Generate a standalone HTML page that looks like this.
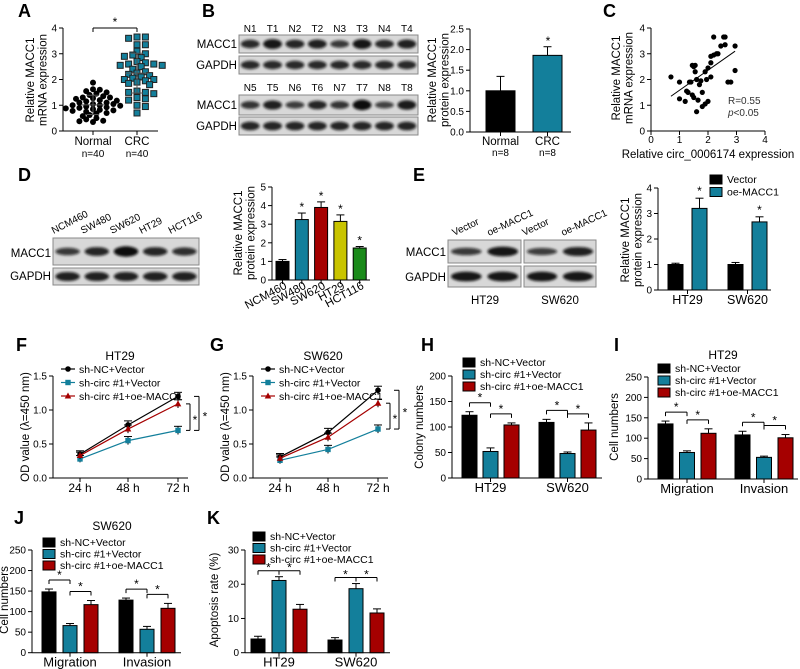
<!DOCTYPE html>
<html><head><meta charset="utf-8">
<style>
html,body{margin:0;padding:0;background:#fff;}
svg{display:block;font-family:"Liberation Sans",Arial,sans-serif;}
</style></head>
<body>
<svg id="fig" width="800" height="669" viewBox="0 0 800 669" xmlns="http://www.w3.org/2000/svg">
<defs><filter id="blur" x="-20%" y="-50%" width="140%" height="200%"><feGaussianBlur stdDeviation="1.3"/></filter></defs>
</svg>
<script>
// ---------- data ----------
const aNormal=[1.88,1.62,1.55,1.6,1.45,1.5,1.4,1.35,1.3,1.3,1.25,1.2,1.18,1.15,1.1,1.1,1.05,1.05,1.0,1.0,0.98,0.95,0.92,0.9,0.88,0.85,0.82,0.8,0.78,0.75,0.7,0.68,0.62,0.58,0.5,0.45,0.4,0.35,0.38,1.27];
const aCRC=[3.65,3.65,3.6,3.35,3.35,3.0,2.95,2.9,2.85,2.65,2.6,2.6,2.55,2.55,2.5,2.4,2.3,2.25,2.2,2.15,2.1,2.05,2.0,2.0,1.95,1.9,1.85,1.8,1.55,1.5,1.5,1.45,1.3,1.25,1.2,1.0,0.95,0.7,2.7,3.1];
const bCats=["Normal","CRC"];
const bVals=[1.0,1.86];
const bErr=[0.35,0.21];
const bBlotLanes=["N1","T1","N2","T2","N3","T3","N4","T4"];
const bBlotLanes2=["N5","T5","N6","T6","N7","T7","N8","T8"];
const bMacc1=[0.7,0.9,0.75,0.8,0.55,0.9,0.7,0.8];
const bMacc1b=[0.6,0.8,0.5,0.75,0.6,1.0,0.45,0.85];
const cX=[0.7,1.0,1.0,1.2,1.25,1.3,1.35,1.4,1.45,1.45,1.5,1.55,1.55,1.5,1.6,1.65,1.6,1.7,1.75,1.8,1.8,1.9,1.9,1.95,2.0,2.0,2.1,2.1,2.2,2.3,2.35,2.45,2.55,2.6,2.6,2.2,2.7,2.8,2.95,2.95,2.1];
const cY=[2.1,1.9,1.25,1.15,1.55,1.5,1.9,1.9,1.4,2.55,2.5,2.55,2.3,1.3,0.75,1.2,2.0,1.8,1.95,1.5,0.95,1.05,2.3,2.0,1.15,2.45,2.9,2.1,2.95,3.0,3.0,3.3,3.65,3.65,3.35,3.65,1.9,1.9,3.3,2.35,2.65];
const cFit=[1.35,3.1];
const dCats=["NCM460","SW480","SW620","HT29","HCT116"];
const dVals=[1.0,3.25,3.9,3.15,1.72];
const dErr=[0.1,0.35,0.3,0.35,0.08];
const dBlot=[0.55,0.75,1.0,0.75,0.65];
const eGroups=["HT29","SW620"];
const eSeries=["Vector","oe-MACC1"];
const eVector=[1.0,1.0];
const eVectorErr=[0.05,0.08];
const eOe=[3.2,2.67];
const eOeErr=[0.4,0.2];
const timeCats=["24 h","48 h","72 h"];
const fNC=[0.35,0.78,1.2];
const fCirc=[0.28,0.55,0.7];
const fOe=[0.33,0.72,1.09];
const gNC=[0.31,0.67,1.29];
const gCirc=[0.26,0.42,0.72];
const gOe=[0.29,0.6,1.1];
const lineErr=[0.05,0.06,0.06];
const threeSeries=["sh-NC+Vector","sh-circ #1+Vector","sh-circ #1+oe-MACC1"];
const hGroups=["HT29","SW620"];
const hNC=[123,109];const hCirc=[52,48];const hOe=[104,94];
const hErrNC=[7,6];const hErrCirc=[7,3];const hErrOe=[4,14];
const mGroups=["Migration","Invasion"];
const iNC=[135,108];const iCirc=[65,53];const iOe=[112,101];
const iErrNC=[7,9];const iErrCirc=[4,3];const iErrOe=[11,8];
const jNC=[148,128];const jCirc=[66,57];const jOe=[117,108];
const jErrNC=[7,5];const jErrCirc=[5,7];const jErrOe=[10,12];
const kNC=[4.0,3.7];const kCirc=[21.1,18.7];const kOe=[12.7,11.6];
const kErrNC=[0.8,0.7];const kErrCirc=[1.1,1.5];const kErrOe=[1.4,1.2];

// ---------- helpers ----------
const svg=document.getElementById('fig');
const NS='http://www.w3.org/2000/svg';
const TEAL='#137f9b',RED='#a50000',BLK='#000';
const TICK=10,TITLE=11.5,LEG=10.5;
function mk(tag,attrs,name){
  const el=document.createElementNS(NS,tag);
  for(const k in attrs)el.setAttribute(k,attrs[k]);
  
  
  svg.appendChild(el);return el;
}
function txt(x,y,s,size,name,anchor,extra){
  const a=Object.assign({x:x,y:y,'font-size':size,'text-anchor':anchor||'middle',fill:'#000'},extra||{});
  const t=mk('text',a,name);t.textContent=s;return t;
}
function ln(x1,y1,x2,y2,name,w,col){return mk('line',{x1:x1,y1:y1,x2:x2,y2:y2,stroke:col||'#000','stroke-width':w||1},name);}
function rc(x,y,w,h,fill,name,stroke){return mk('rect',{x:x,y:y,width:w,height:h,fill:fill,stroke:stroke||'#000','stroke-width':stroke==='none'?0:1},name);}
function letter(x,y,s){txt(x,y,s,18,'panel-label-'+s.toLowerCase(),'start',{'font-weight':'bold'});}
function scaleY(v,min,max,yb,yt){return yb-(v-min)/(max-min)*(yb-yt);}
function yAxis(x,yb,yt,min,max,ticks,fmt,name){
  ln(x,yb,x,yt,name+'-line');
  ticks.forEach(t=>{const y=scaleY(t,min,max,yb,yt);ln(x-4,y,x,y,name+'-tick');txt(x-6,y+3.5,fmt(t),TICK,name+'-tick-label','end');});
}
function yTitle(x,yc,lines,name){
  lines.forEach((s,i)=>{txt(0,0,s,TITLE,name,'middle',{transform:'translate('+(x+i*12.5)+','+yc+') rotate(-90)'});});
}
function errBar(cx,y1,y2,name){ln(cx,y1,cx,y2,name);ln(cx-4,y2,cx+4,y2,name+'-cap');}
function bracket(x1,x2,y,name,mid){
  ln(x1,y,x2,y,name);ln(x1,y,x1,y+4,name);ln(x2,y,x2,y+4,name);
  if(mid!==undefined)ln(mid,y,mid,y+4,name);
}
function star(x,y,name){txt(x,y,'*',12,name||'significance-star');}
function legendBox(x,y,col,label,name){rc(x,y-5,12,9,col,name+'-swatch');txt(x+17,y+3,label,LEG,name,'start');}

// ---------- A ----------
letter(18,17,'A');
(function(){
  const x0=63,yb=131,yt=28,xe=158;
  const sy=v=>scaleY(v,0,4,yb,yt);
  yAxis(x0,yb,yt,0,4,[0,1,2,3,4],t=>t,'a-y-axis');
  ln(x0,yb,xe,yb,'a-x-axis');
  [93,137].forEach(c=>ln(c,yb,c,yb+4,'a-x-tick'));
  txt(93,145,'Normal',TITLE,'a-x-label-normal');txt(93,157,'n=40',TICK,'a-n-normal');
  txt(137,145,'CRC',TITLE,'a-x-label-crc');txt(137,157,'n=40',TICK,'a-n-crc');
  yTitle(34,80,['Relative MACC1','mRNA expression'],'a-y-title');
  bracket(93,137,28,'a-sig-bracket');star(115,26,'a-star');
  function swarm(vals,cx,shape,col,stepX,minD){
    const placed=[];const sorted=vals.slice().sort((a,b)=>b-a);
    sorted.forEach(v=>{
      const y=sy(v);let off=0;
      for(let k=0;k<30;k++){
        const cand=k===0?0:(k%2?1:-1)*Math.ceil(k/2)*stepX;
        if(placed.every(p=>Math.hypot(p[0]-cand,p[1]-y)>=minD)){off=cand;break;}
      }
      placed.push([off,y]);
      if(shape==='c'){mk('circle',{cx:cx+off,cy:y,r:3,fill:col},'a-point-normal');}
      else{rc(cx+off-3,y-3,6,6,col,'a-point-crc','#222');}
    });
    const m=vals.reduce((a,b)=>a+b,0)/vals.length;
    const sd=Math.sqrt(vals.reduce((a,b)=>a+(b-m)*(b-m),0)/(vals.length-1));
    ln(cx-12,sy(m),cx+12,sy(m),'a-mean-line',1,'#555');
    ln(cx,sy(m-sd),cx,sy(m+sd),'a-sd-line',1,'#555');
    ln(cx-6,sy(m-sd),cx+6,sy(m-sd),'a-sd-cap',1,'#555');ln(cx-6,sy(m+sd),cx+6,sy(m+sd),'a-sd-cap',1,'#555');
  }
  swarm(aNormal,93,'c','#000',3.4,4.6);
  swarm(aCRC,137,'s',TEAL,4.2,5.6);
})();

// ---------- blots ----------
function blot(x,y,w,h,intens,name){
  rc(x,y,w,h,'#d8d8d8',name+'-membrane','#888');
  const n=intens.length,step=w/n;
  intens.forEach((v,i)=>{
    mk('ellipse',{cx:x+step*(i+0.5),cy:y+h/2,rx:step*0.42,ry:2+v*3.2,fill:'#111','fill-opacity':0.55+0.45*v,filter:'url(#blur)'},name+'-band');
  });
}
letter(202,17,'B');
(function(){
  const x=239,w=179,step=w/8;
  bBlotLanes.forEach((s,i)=>txt(x+step*(i+0.5),32,s,TICK,'b-lane-label'));
  blot(x,35,w,18,bMacc1,'b-macc1-blot-1');
  blot(x,56,w,18,[0.7,0.7,0.7,0.7,0.7,0.7,0.7,0.7],'b-gapdh-blot-1');
  bBlotLanes2.forEach((s,i)=>txt(x+step*(i+0.5),91,s,TICK,'b-lane-label'));
  blot(x,95,w,20,bMacc1b,'b-macc1-blot-2');
  blot(x,117,w,18,[0.75,0.75,0.75,0.75,0.75,0.75,0.75,0.75],'b-gapdh-blot-2');
  [['MACC1',48],['GAPDH',69],['MACC1',109],['GAPDH',130]].forEach(p=>txt(237,p[1],p[0],TITLE,'b-blot-row-label','end'));
  const x0=470,yb=132,yt=29;const sy=v=>scaleY(v,0,2.5,yb,yt);
  yAxis(x0,yb,yt,0,2.5,[0,0.5,1,1.5,2,2.5],t=>t.toFixed(1),'b-y-axis');
  ln(x0,yb,571,yb,'b-x-axis');
  const lefts=[486,533],cols=[BLK,TEAL];
  bCats.forEach((c,i)=>{
    const cx=lefts[i]+14.5;
    errBar(cx,sy(bVals[i]),sy(bVals[i]+bErr[i]),'b-error-bar');
    rc(lefts[i],sy(bVals[i]),29,yb-sy(bVals[i]),cols[i],'b-bar-'+c.toLowerCase());
    ln(cx,yb,cx,yb+4,'b-x-tick');
    txt(cx,145,c,TITLE,'b-x-label');txt(cx,156,'n=8',TICK,'b-n-label');
  });
  star(548,45,'b-star');
  yTitle(436,80,['Relative MACC1','protein expression'],'b-y-title');
})();

// ---------- C ----------
letter(603,17,'C');
(function(){
  const x0=651,xe=765,yb=131,yt=28;
  const sx=v=>x0+v/4*(xe-x0),sy=v=>scaleY(v,0,4,yb,yt);
  yAxis(x0,yb,yt,0,4,[0,1,2,3,4],t=>t,'c-y-axis');
  ln(x0,yb,xe,yb,'c-x-axis');
  [0,1,2,3,4].forEach(t=>{ln(sx(t),yb,sx(t),yb+4,'c-x-tick');txt(sx(t),143,t,TICK,'c-x-tick-label');});
  txt(708,158,'Relative circ_0006174 expression',TITLE,'c-x-title');
  yTitle(620,78,['Relative MACC1','mRNA expression'],'c-y-title');
  cX.forEach((v,i)=>mk('circle',{cx:sx(v),cy:sy(cY[i]),r:2.6,fill:'#000'},'c-point'));
  ln(sx(0.7),sy(cFit[0]),sx(2.95),sy(cFit[1]),'c-fit-line');
  txt(728,104,'R=0.55',TICK,'c-r-value','start',{fill:'#333'});
  const p=txt(728,116,'',TICK,'c-p-value','start',{fill:'#333'});p.innerHTML='<tspan font-style="italic">p</tspan>&lt;0.05';
})();

// ---------- D ----------
letter(18,181,'D');
(function(){
  const x=53,w=146,step=w/5;
  dCats.forEach((s,i)=>txt(0,0,s,TICK,'d-lane-label','start',{transform:'translate('+(x+step*(i+0.5)-14)+',234) rotate(-27)'}));
  blot(x,238,w,27,dBlot,'d-macc1-blot');
  blot(x,268,w,17,[0.8,0.8,0.8,0.8,0.8],'d-gapdh-blot');
  txt(51,257,'MACC1',TITLE,'d-blot-row-label','end');txt(51,280,'GAPDH',TITLE,'d-blot-row-label','end');
  const x0=272,yb=280,yt=187;const sy=v=>scaleY(v,0,5,yb,yt);
  yAxis(x0,yb,yt,0,5,[0,1,2,3,4,5],t=>t,'d-y-axis');
  ln(x0,yb,370,yb,'d-x-axis');
  const cols=[BLK,TEAL,RED,'#c9c400','#1a8a1a'];
  dCats.forEach((c,i)=>{
    const l=276+i*19.3,cx=l+6.5;
    errBar(cx,sy(dVals[i]),sy(dVals[i]+dErr[i]),'d-error-bar');
    rc(l,sy(dVals[i]),13,yb-sy(dVals[i]),cols[i],'d-bar-'+c.toLowerCase());
    ln(cx,yb,cx,yb+4,'d-x-tick');
    txt(0,0,c,TITLE,'d-x-label','end',{transform:'translate('+(cx+5)+',288) rotate(-28)'});
    if(i>0)star(cx,sy(dVals[i]+dErr[i])-2,'d-star');
  });
  yTitle(242,233,['Relative MACC1','protein expression'],'d-y-title');
})();

// ---------- E ----------
letter(413,181,'E');
(function(){
  const lanes=[468,503,538,577],labs=["Vector","oe-MACC1","Vector","oe-MACC1"];
  lanes.forEach((c,i)=>txt(0,0,labs[i],TICK,'e-lane-label','start',{transform:'translate('+(c-14)+',236) rotate(-25)'}));
  blot(448,240,73,23,[0.55,0.9],'e-macc1-blot-ht29');
  blot(524,240,72,23,[0.5,0.8],'e-macc1-blot-sw620');
  blot(448,266,73,21,[0.9,0.9],'e-gapdh-blot-ht29');
  blot(524,266,72,21,[0.9,0.9],'e-gapdh-blot-sw620');
  txt(446,256,'MACC1',TITLE,'e-blot-row-label','end');txt(446,281,'GAPDH',TITLE,'e-blot-row-label','end');
  txt(485,304,'HT29',TITLE,'e-blot-group-label');txt(560,304,'SW620',TITLE,'e-blot-group-label');
  const x0=658,yb=290,yt=188;const sy=v=>scaleY(v,0,4,yb,yt);
  yAxis(x0,yb,yt,0,4,[0,1,2,3,4],t=>t,'e-y-axis');
  ln(x0,yb,771,yb,'e-x-axis');
  const vals=[eVector,eOe],errs=[eVectorErr,eOeErr],cols=[BLK,TEAL];
  eGroups.forEach((g,gi)=>{
    vals.forEach((arr,si)=>{
      const l=668+gi*60+si*24,cx=l+7.5;
      errBar(cx,sy(arr[gi]),sy(arr[gi]+errs[si][gi]),'e-error-bar');
      rc(l,sy(arr[gi]),15,yb-sy(arr[gi]),cols[si],'e-bar-'+g.toLowerCase()+'-'+eSeries[si].toLowerCase());
      if(si===1)star(cx,sy(arr[gi]+errs[si][gi])-3,'e-star');
    });
    const gc=668+gi*60+19.5;ln(gc,yb,gc,yb+4,'e-x-tick');
    txt(gc,304,g,12.5,'e-x-label');
  });
  eSeries.forEach((s,i)=>legendBox(710,180+i*12.5,cols[i],s,'e-legend-entry'));
  yTitle(629,240,['Relative MACC1','protein expression'],'e-y-title');
})();

// ---------- F & G ----------
function marker(x,y,s,col,name){
  if(s==='c')mk('circle',{cx:x,cy:y,r:2.8,fill:col},name);
  else if(s==='s')rc(x-2.7,y-2.7,5.4,5.4,col,name,'none');
  else mk('polygon',{points:(x)+','+(y-3.5)+' '+(x-3.3)+','+(y+2.5)+' '+(x+3.3)+','+(y+2.5),fill:col},name);
}
function linePanel(x0,title,tx,series,name){
  const yb=478,yt=376,sy=v=>scaleY(v,0,1.5,yb,yt);
  const xs=[x0+27,x0+75,x0+125];
  txt(tx,360,title,12,name+'-title');
  yAxis(x0,yb,yt,0,1.5,[0,0.5,1,1.5],t=>t.toFixed(1),name+'-y-axis');
  ln(x0,yb,x0+135,yb,name+'-x-axis');
  timeCats.forEach((c,i)=>{ln(xs[i],yb,xs[i],yb+4,name+'-x-tick');txt(xs[i],492,c,12,name+'-x-label');});
  const cols=[BLK,TEAL,RED],shapes=['c','s','t'];
  series.forEach((arr,si)=>{
    const pts=arr.map((v,i)=>xs[i]+','+sy(v)).join(' ');
    mk('polyline',{points:pts,fill:'none',stroke:cols[si],'stroke-width':1.2},name+'-line-'+si);
    arr.forEach((v,i)=>{
      errBar(xs[i],sy(v-lineErr[i]),sy(v+lineErr[i]),name+'-error-bar');
      marker(xs[i],sy(v),shapes[si],cols[si],name+'-point');
    });
  });
  threeSeries.forEach((s,i)=>{
    const y=369+i*13.5;ln(x0+8,y,x0+22,y,name+'-legend-line',1.2,cols[i]);marker(x0+15,y,shapes[i],cols[i],name+'-legend-marker');
    txt(x0+26,y+4,s,LEG,name+'-legend-entry','start');
  });
  const tx1=x0+133;
  const yi1=sy(series[2][2]),yi2=sy(series[1][2]),yo1=sy(series[0][2]);
  ln(tx1,yi1,tx1+4,yi1,name+'-sig');ln(tx1+4,yi1,tx1+4,yi2,name+'-sig');ln(tx1,yi2,tx1+4,yi2,name+'-sig');
  star(tx1+9,(yi1+yi2)/2+7,name+'-star-inner');
  ln(tx1+8,yo1,tx1+13,yo1,name+'-sig');ln(tx1+13,yo1,tx1+13,yi2,name+'-sig');ln(tx1+8,yi2,tx1+13,yi2,name+'-sig');
  star(tx1+19,(yo1+yi2)/2+7,name+'-star-outer');
  txt(0,0,'OD value (λ=450 nm)',TITLE,name+'-y-title','middle',{transform:'translate('+(x0-24)+',427) rotate(-90)'});
}
letter(16,351,'F');letter(210,351,'G');
linePanel(53,'HT29',120,[fNC,fCirc,fOe],'f');
linePanel(253,'SW620',323,[gNC,gCirc,gOe],'g');

// ---------- grouped bar panels ----------
function groupBars(o){
  const sy=v=>scaleY(v,0,o.max,o.yb,o.yt);
  yAxis(o.x0,o.yb,o.yt,0,o.max,o.ticks,t=>t,o.name+'-y-axis');
  ln(o.x0,o.yb,o.xe,o.yb,o.name+'-x-axis');
  const cols=[BLK,TEAL,RED],vals=[o.nc,o.circ,o.oe],errs=[o.enc,o.ecirc,o.eoe];
  o.groups.forEach((g,gi)=>{
    const cxs=[];
    vals.forEach((arr,si)=>{
      const l=o.left+gi*o.gstep+si*o.step,cx=l+o.bw/2;cxs.push(cx);
      errBar(cx,sy(arr[gi]),sy(arr[gi]+errs[si][gi]),o.name+'-error-bar');
      rc(l,sy(arr[gi]),o.bw,o.yb-sy(arr[gi]),cols[si],o.name+'-bar-'+g.toLowerCase()+'-'+si);
    });
    ln(cxs[1],o.yb,cxs[1],o.yb+4,o.name+'-x-tick');
    txt(cxs[1],o.yb+14,g,13,o.name+'-x-label');
    if(o.kstyle){
      const y=sy(vals[1][gi]+errs[1][gi])-6;
      bracket(cxs[0],cxs[2],y,o.name+'-sig-bracket',cxs[1]);
      star((cxs[0]+cxs[1])/2,y+1,o.name+'-star');star((cxs[1]+cxs[2])/2,y+1,o.name+'-star');
    }else{
      const y1=sy(vals[0][gi]+errs[0][gi])-9;
      bracket(cxs[0],cxs[1],y1,o.name+'-sig-bracket');star((cxs[0]+cxs[1])/2,y1-1,o.name+'-star');
      const y2=sy(Math.max(vals[2][gi]+errs[2][gi],vals[1][gi]))-9;
      bracket(cxs[1],cxs[2],y2,o.name+'-sig-bracket');star((cxs[1]+cxs[2])/2,y2-1,o.name+'-star');
    }
  });
  threeSeries.forEach((s,i)=>legendBox(o.lx,o.ly+i*o.lstep,cols[i],s,o.name+'-legend-entry'));
  if(o.title)txt(o.tx,o.ty,o.title,12,o.name+'-title');
  txt(0,0,o.ytitle,11.5,o.name+'-y-title','middle',{transform:'translate('+o.ytx+','+o.yc+') rotate(-90)'});
}
letter(421,351,'H');letter(614,351,'I');letter(14,524,'J');letter(207,524,'K');
groupBars({name:'h',x0:452,xe:602,yb:478,yt:376,max:200,ticks:[0,50,100,150,200],groups:hGroups,left:462,bw:15,step:21,gstep:77,
  nc:hNC,circ:hCirc,oe:hOe,enc:hErrNC,ecirc:hErrCirc,eoe:hErrOe,lx:463,ly:363,lstep:12,ytitle:'Colony numbers',ytx:423,yc:427});
groupBars({name:'i',x0:648,xe:798,yb:479,yt:377,max:250,ticks:[0,50,100,150,200,250],groups:mGroups,left:658,bw:15,step:21.5,gstep:77,
  nc:iNC,circ:iCirc,oe:iOe,enc:iErrNC,ecirc:iErrCirc,eoe:iErrOe,lx:658,ly:369,lstep:12,title:'HT29',tx:723,ty:359,ytitle:'Cell numbers',ytx:618,yc:427});
groupBars({name:'j',x0:32,xe:181,yb:652.7,yt:550,max:250,ticks:[0,50,100,150,200,250],groups:mGroups,left:42,bw:14,step:21,gstep:77,
  nc:jNC,circ:jCirc,oe:jOe,enc:jErrNC,ecirc:jErrCirc,eoe:jErrOe,lx:43,ly:543,lstep:11.5,title:'SW620',tx:112,ty:530,ytitle:'Cell numbers',ytx:8,yc:600});
groupBars({name:'k',x0:245,xe:390,yb:652.7,yt:550,max:30,ticks:[0,10,20,30],groups:hGroups,left:251,bw:14,step:21,gstep:77,kstyle:true,
  nc:kNC,circ:kCirc,oe:kOe,enc:kErrNC,ecirc:kErrCirc,eoe:kErrOe,lx:253,ly:537,lstep:11.5,ytitle:'Apoptosis rate (%)',ytx:218,yc:600});
</script>
</body></html>
